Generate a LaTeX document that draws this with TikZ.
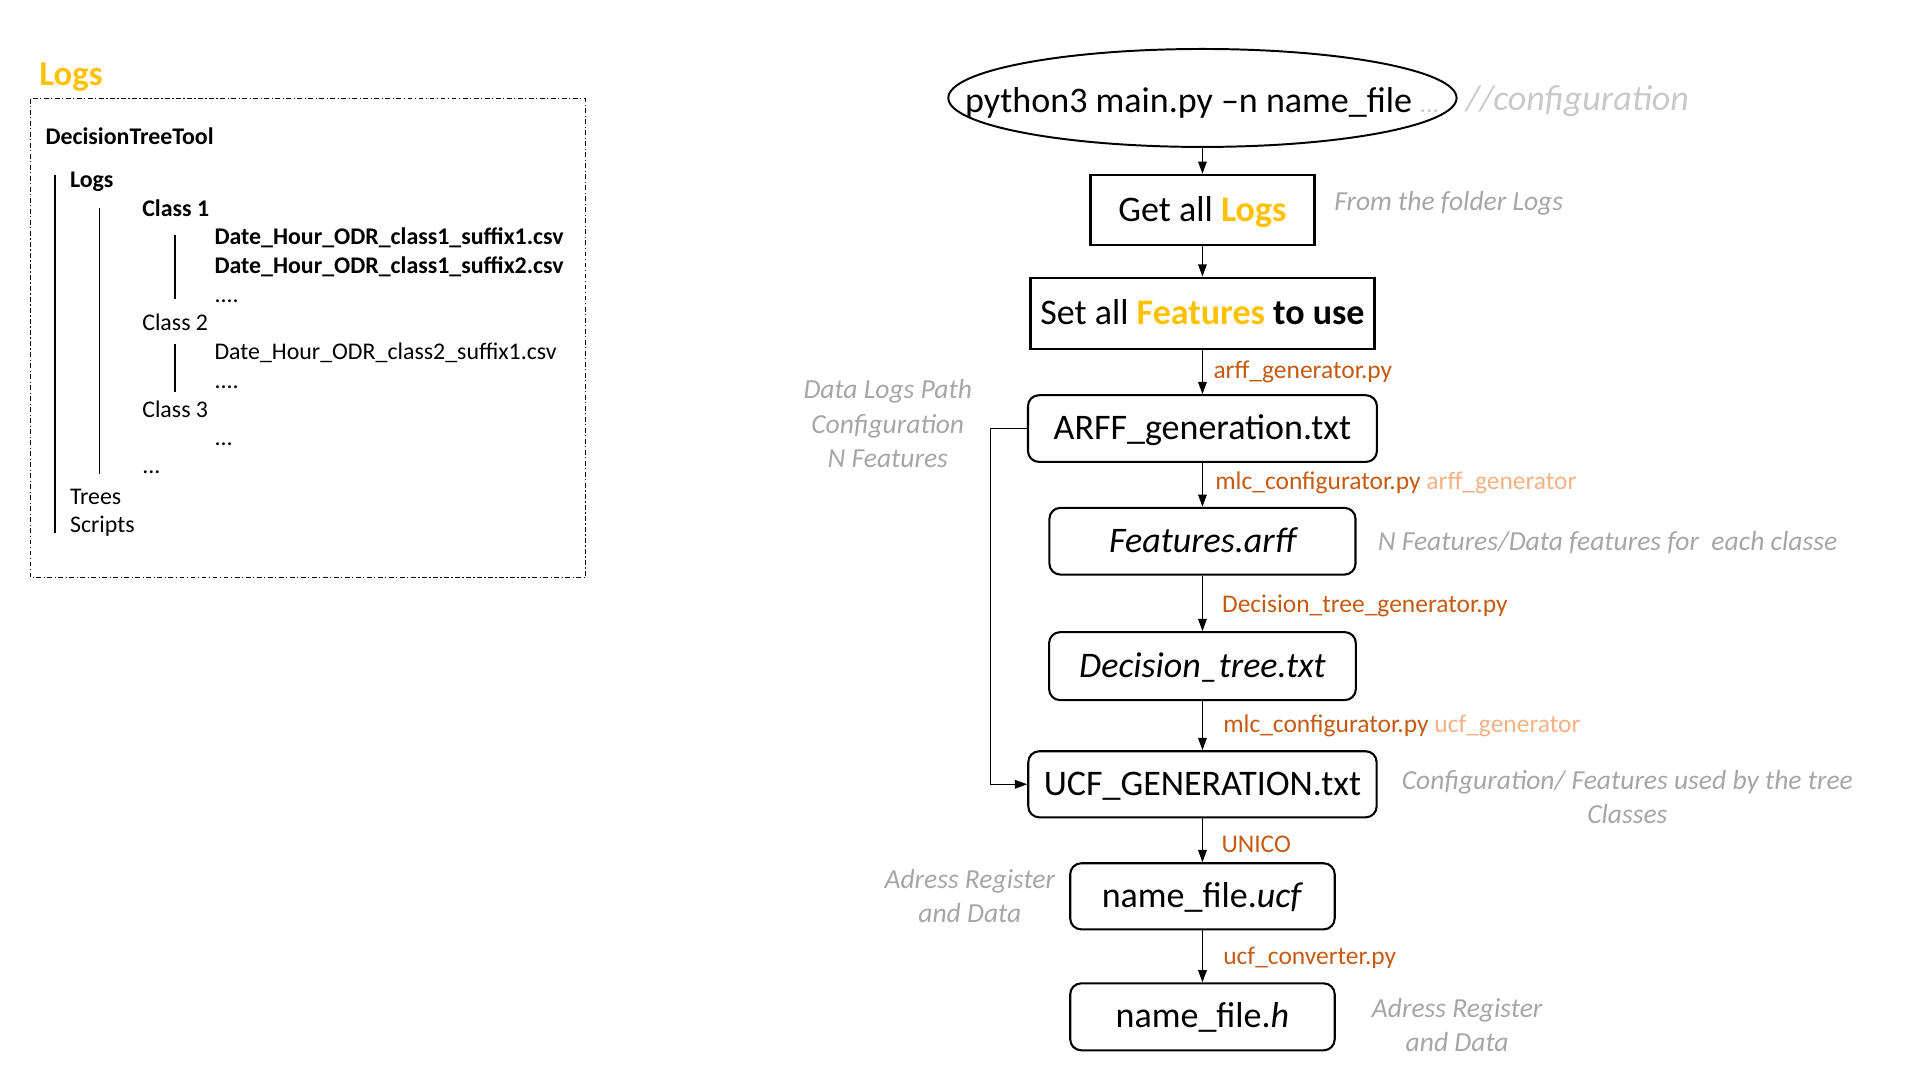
\documentclass[tikz,border=0pt]{standalone}
\usepackage{fontspec}
\setmainfont{Carlito}
\usetikzlibrary{shapes.geometric,arrows.meta}

\definecolor{logsgold}{HTML}{FFC000}
\definecolor{toolbrown}{HTML}{C55A11}
\definecolor{toollight}{HTML}{F4B183}
\definecolor{notegray}{HTML}{A6A6A6}
\definecolor{notelight}{HTML}{C9C9C9}

\tikzset{
    stepbox/.style={draw, line width=2.2pt, inner xsep=0pt, text height=23pt, text depth=5pt,
        font=\fontsize{29.4}{34}\selectfont},
    filebox/.style={draw, line width=1.7pt, rounded corners=9pt, inner xsep=0pt, text height=23pt,
        text depth=5pt, font=\fontsize{29.4}{34}\selectfont},
    flowarrow/.style={-{Triangle[length=10pt,width=7pt]}, line width=1.1pt},
    toollabel/.style={anchor=west, inner sep=0pt, text=toolbrown, font=\fontsize{20.8}{25}\selectfont},
    notetext/.style={inner sep=0pt, text=notegray, align=center, font=\fontsize{22.5}{28}\selectfont\itshape},
    treeentry/.style={anchor=base west, inner sep=0pt, font=\fontsize{19.5}{23}\selectfont},
    treeline/.style={line width=1pt},
}

\begin{document}
\begin{tikzpicture}[x=1pt, y=-1pt]
    \useasboundingbox (0,0) rectangle (1568,882);

    % folder tree
    \node[anchor=base west, inner sep=0pt, text=logsgold, font=\fontsize{28.4}{32}\selectfont\bfseries] (logstitle) at (32,70) {Logs};
    \draw[line width=0.8pt, dash pattern=on 4pt off 2pt on 1pt off 2pt] (25,80.6) rectangle (478,472);

    \node[treeentry, font=\fontsize{19.5}{23}\selectfont\bfseries] (tool) at (37,118) {DecisionTreeTool};
    \node[treeentry, font=\fontsize{19.5}{23}\selectfont\bfseries] (tlogs) at (57,153) {Logs};
    \node[treeentry, font=\fontsize{19.5}{23}\selectfont\bfseries] (cone) at (116,177) {Class 1};
    \node[treeentry, font=\fontsize{19.5}{23}\selectfont\bfseries] (conea) at (175,200) {Date\_Hour\_ODR\_class1\_suffix1.csv};
    \node[treeentry, font=\fontsize{19.5}{23}\selectfont\bfseries] (coneb) at (175,223) {Date\_Hour\_ODR\_class1\_suffix2.csv};
    \node[treeentry] (conec) at (175,247) {....};
    \node[treeentry] (ctwo) at (116,270) {Class 2};
    \node[treeentry] (ctwoa) at (175,294) {Date\_Hour\_ODR\_class2\_suffix1.csv};
    \node[treeentry] (ctwob) at (175,317) {....};
    \node[treeentry] (cthree) at (116,341) {Class 3};
    \node[treeentry] (cthreea) at (175,364) {...};
    \node[treeentry] (cmore) at (116,387) {...};
    \node[treeentry] (ttrees) at (57,412) {Trees};
    \node[treeentry] (tscripts) at (57,435) {Scripts};

    \draw[treeline] (45,143) -- (45,435);
    \draw[treeline] (81,170) -- (81,387);
    \draw[treeline] (143,192) -- (143,244);
    \draw[treeline] (143,281) -- (143,320);

    % flow
    \node[draw, ellipse, line width=1.6pt, inner xsep=-47pt, inner ysep=0pt, minimum height=80pt,
        text height=27pt, text depth=3pt, font=\fontsize{29.4}{34}\selectfont] (run) at (982,80)
        {python3 main.py –n name\_file {\color{notelight}\itshape\fontsize{21}{24}\selectfont...}};
    \node[stepbox, minimum width=183pt, minimum height=57pt] (getlogs) at (982,171.5)
        {Get all {\color{logsgold}\bfseries Logs}};
    \node[stepbox, minimum width=281pt, minimum height=58pt] (setfeat) at (982,256)
        {Set all {\color{logsgold}\bfseries Features} {\bfseries to use}};
    \node[filebox, minimum width=285pt, minimum height=54.5pt] (arff) at (982,350) {ARFF\_generation.txt};
    \node[filebox, minimum width=250pt, minimum height=54.5pt] (featarff) at (982,442) {\itshape Features.arff};
    \node[filebox, minimum width=250.5pt, minimum height=55.5pt] (dtree) at (982,544) {\itshape Decision\_tree.txt};
    \node[filebox, minimum width=284.5pt, minimum height=54pt] (ucfgen) at (982,640.5) {UCF\_GENERATION.txt};
    \node[filebox, minimum width=216pt, minimum height=54pt] (ucffile) at (982,732) {name\_file.\textit{ucf}};
    \node[filebox, minimum width=216pt, minimum height=54.7pt] (hfile) at (982,830.4) {name\_file.\textit{h}};

    \draw[flowarrow] (run) -- (getlogs);
    \draw[flowarrow] (getlogs) -- (setfeat);
    \draw[flowarrow] (setfeat) -- (arff) node[toollabel, midway, xshift=8.5pt] (arffgen) {arff\_generator.py};
    \draw[flowarrow] (arff) -- (featarff) node[toollabel, midway, xshift=10pt, yshift=1.8pt] (mlcarff)
        {mlc\_configurator.py {\color{toollight}arff\_generator}};
    \draw[flowarrow] (featarff) -- (dtree) node[toollabel, midway, xshift=15.5pt, yshift=-2.3pt] (dtreegen) {Decision\_tree\_generator.py};
    \draw[flowarrow] (dtree) -- (ucfgen) node[toollabel, midway, xshift=16.5pt] (mlcucf)
        {mlc\_configurator.py {\color{toollight}ucf\_generator}};
    \draw[flowarrow] (ucfgen) -- (ucffile) node[toollabel, midway, xshift=15pt, yshift=-3.6pt] (unico) {UNICO};
    \draw[flowarrow] (ucffile) -- (hfile) node[toollabel, midway, xshift=16.5pt, yshift=-1.4pt] (ucfconv) {ucf\_converter.py};
    \draw[flowarrow] (arff.west) -| ([xshift=-30pt]ucfgen.west) -- (ucfgen.west);

    % notes
    \node[notetext, anchor=west, text=notelight, font=\fontsize{29.4}{34}\selectfont\itshape] (confnote) at (1197,83) {//configuration};
    \node[notetext, anchor=west] (foldernote) at (1089.5,166) {From the folder Logs};
    \node[notetext] (datanote) at (725,346) {Data Logs Path\\Configuration\\N Features};
    \node[notetext, anchor=west] (featnote) at (1125,443) {N Features/Data features for\ \ each classe};
    \node[notetext] (usednote) at (1329,651) {Configuration/ Features used by the tree\\Classes};
    \node[notetext] (regnote) at (792,732) {Adress Register\\and Data};
    \node[notetext] (hnote) at (1190,837) {Adress Register\\and Data};
\end{tikzpicture}
\end{document}
